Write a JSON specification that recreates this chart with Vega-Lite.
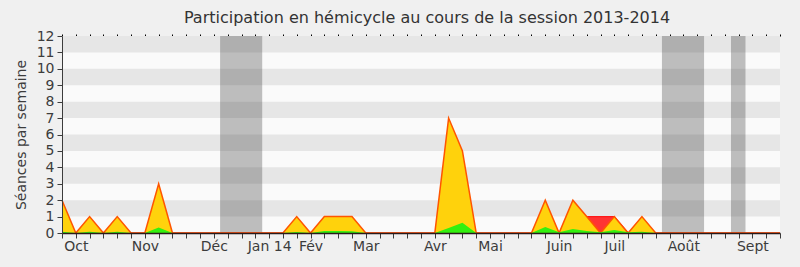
{
  "$schema": "https://vega.github.io/schema/vega-lite/v6.json",
  "width": 718,
  "height": 197,
  "autosize": "none",
  "padding": {"left": 62, "top": 36, "right": 20, "bottom": 34},
  "background": "#F0F0F0",
  "config": {
    "view": {"fill": "#FAFAFA", "stroke": null},
    "font": "DejaVu Sans",
    "axis": {"labelFont": "DejaVu Sans", "titleFont": "DejaVu Sans", "labelColor": "#3C3C3C", "titleColor": "#3C3C3C", "grid": false}
  },
  "title": {
    "text": "Participation en hémicycle au cours de la session 2013-2014",
    "font": "DejaVu Sans",
    "fontSize": 16,
    "fontWeight": "normal",
    "color": "#333333",
    "anchor": "middle",
    "offset": 3,
    "dx": 6
  },
  "datasets": {
    "weeks": [
      {"week": 0, "y": 2, "g": 0.07, "r": 0},
      {"week": 1, "y": 0, "g": 0, "r": 0},
      {"week": 2, "y": 1, "g": 0.07, "r": 0},
      {"week": 3, "y": 0, "g": 0, "r": 0},
      {"week": 4, "y": 1, "g": 0.07, "r": 0},
      {"week": 5, "y": 0, "g": 0, "r": 0},
      {"week": 6, "y": 0, "g": 0, "r": 0},
      {"week": 7, "y": 3, "g": 0.34, "r": 0},
      {"week": 8, "y": 0, "g": 0, "r": 0},
      {"week": 9, "y": 0, "g": 0, "r": 0},
      {"week": 10, "y": 0, "g": 0, "r": 0},
      {"week": 11, "y": 0, "g": 0, "r": 0},
      {"week": 12, "y": 0, "g": 0, "r": 0},
      {"week": 13, "y": 0, "g": 0, "r": 0},
      {"week": 14, "y": 0, "g": 0, "r": 0},
      {"week": 15, "y": 0, "g": 0, "r": 0},
      {"week": 16, "y": 0, "g": 0, "r": 0},
      {"week": 17, "y": 1, "g": 0.06, "r": 0},
      {"week": 18, "y": 0, "g": 0, "r": 0},
      {"week": 19, "y": 1, "g": 0.12, "r": 0},
      {"week": 20, "y": 1, "g": 0.12, "r": 0},
      {"week": 21, "y": 1, "g": 0.1, "r": 0},
      {"week": 22, "y": 0, "g": 0, "r": 0},
      {"week": 23, "y": 0, "g": 0, "r": 0},
      {"week": 24, "y": 0, "g": 0, "r": 0},
      {"week": 25, "y": 0, "g": 0, "r": 0},
      {"week": 26, "y": 0, "g": 0, "r": 0},
      {"week": 27, "y": 0, "g": 0, "r": 0},
      {"week": 28, "y": 7, "g": 0.3, "r": 0},
      {"week": 29, "y": 5, "g": 0.63, "r": 0},
      {"week": 30, "y": 0, "g": 0, "r": 0},
      {"week": 31, "y": 0, "g": 0, "r": 0},
      {"week": 32, "y": 0, "g": 0, "r": 0},
      {"week": 33, "y": 0, "g": 0, "r": 0},
      {"week": 34, "y": 0, "g": 0, "r": 0},
      {"week": 35, "y": 2, "g": 0.37, "r": 0},
      {"week": 36, "y": 0, "g": 0.05, "r": 0},
      {"week": 37, "y": 2, "g": 0.24, "r": 0},
      {"week": 38, "y": 1, "g": 0.12, "r": 1},
      {"week": 39, "y": 0, "g": 0.04, "r": 1},
      {"week": 40, "y": 1, "g": 0.18, "r": 1},
      {"week": 41, "y": 0, "g": 0.04, "r": 0},
      {"week": 42, "y": 1, "g": 0.07, "r": 0},
      {"week": 43, "y": 0, "g": 0, "r": 0},
      {"week": 44, "y": 0, "g": 0, "r": 0},
      {"week": 45, "y": 0, "g": 0, "r": 0},
      {"week": 46, "y": 0, "g": 0, "r": 0},
      {"week": 47, "y": 0, "g": 0, "r": 0},
      {"week": 48, "y": 0, "g": 0, "r": 0},
      {"week": 49, "y": 0, "g": 0, "r": 0},
      {"week": 50, "y": 0, "g": 0, "r": 0},
      {"week": 51, "y": 0, "g": 0, "r": 0},
      {"week": 52, "y": 0, "g": 0, "r": 0}
    ],
    "stripes": [
      {"a": 1, "b": 2}, {"a": 3, "b": 4}, {"a": 5, "b": 6},
      {"a": 7, "b": 8}, {"a": 9, "b": 10}, {"a": 11, "b": 12}
    ],
    "holidays": [
      {"s": 11.45, "e": 14.5},
      {"s": 43.45, "e": 46.5},
      {"s": 48.45, "e": 49.5}
    ]
  },
  "layer": [
    {
      "data": {"name": "stripes"},
      "mark": {"type": "rect", "color": "#E6E6E6"},
      "encoding": {
        "y": {
          "field": "a", "type": "quantitative",
          "scale": {"domain": [0, 12], "nice": false, "zero": true},
          "axis": {
            "orient": "left",
            "values": [0,1,2,3,4,5,6,7,8,9,10,11,12],
            "title": "Séances par semaine",
            "labelOverlap": false, "labelFontSize": 14, "labelPadding": 3,
            "titleFontSize": 14, "titleFontWeight": "normal", "titlePadding": 8,
            "tickSize": 5, "tickColor": "#3C3C3C", "domainColor": "#3C3C3C", "zindex": 1
          }
        },
        "y2": {"field": "b"}
      }
    },
    {
      "data": {"name": "holidays"},
      "mark": {"type": "rect", "color": "#323232", "opacity": 0.3},
      "encoding": {
        "x": {
          "field": "s", "type": "quantitative",
          "scale": {"domain": [0, 52], "nice": false, "zero": false, "padding": 0},
          "axis": {
            "orient": "top",
            "values": [0,1,2,3,4,5,6,7,8,9,10,11,12,13,14,15,16,17,18,19,20,21,22,23,24,25,26,27,28,29,30,31,32,33,34,35,36,37,38,39,40,41,42,43,44,45,46,47,48,49,50,51,52],
            "labels": false, "domain": false, "ticks": true, "tickSize": 2, "tickColor": "#000000", "title": null
          }
        },
        "x2": {"field": "e"}
      }
    },
    {
      "data": {"name": "weeks"},
      "mark": {"type": "area", "color": "#FF3333", "opacity": 1, "line": {"color": "#FF1A1A", "strokeWidth": 1.2}},
      "encoding": {
        "x": {"field": "week", "type": "quantitative", "axis": null},
        "y": {
          "field": "r", "type": "quantitative",
          "axis": {
            "orient": "left",
            "values": [0,1,2,3,4,5,6,7,8,9,10,11,12],
            "title": "Séances par semaine",
            "labelOverlap": false, "labelFontSize": 14, "labelPadding": 3,
            "titleFontSize": 14, "titleFontWeight": "normal", "titlePadding": 8,
            "tickSize": 5, "tickColor": "#3C3C3C", "domainColor": "#3C3C3C", "zindex": 1
          }
        }
      }
    },
    {
      "data": {"name": "weeks"},
      "mark": {"type": "area", "color": "#FFD20C", "opacity": 1, "line": {"color": "#FF5500", "strokeWidth": 1.5}},
      "encoding": {
        "x": {
          "field": "week", "type": "quantitative",
          "axis": {
            "orient": "bottom",
            "values": [0,1,2,3,4,5,6,7,8,9,10,11,12,13,14,15,16,17,18,19,20,21,22,23,24,25,26,27,28,29,30,31,32,33,34,35,36,37,38,39,40,41,42,43,44,45,46,47,48,49,50,51,52],
            "labelExpr": "datum.value==1?'Oct':datum.value==6?'Nov':datum.value==11?'Déc':datum.value==15?'Jan 14':datum.value==18?'Fév':datum.value==22?'Mar':datum.value==27?'Avr':datum.value==31?'Mai':datum.value==36?'Juin':datum.value==40?'Juil':datum.value==45?'Août':datum.value==50?'Sept':''",
            "labelOverlap": false, "labelFlush": false, "labelFontSize": 14, "labelPadding": 1,
            "tickSize": 5, "tickColor": "#3C3C3C", "domainColor": "#2A1A1A", "domainWidth": 1.5,
            "title": null, "zindex": 1
          }
        },
        "y": {
          "field": "y", "type": "quantitative",
          "axis": {
            "orient": "left",
            "values": [0,1,2,3,4,5,6,7,8,9,10,11,12],
            "title": "Séances par semaine",
            "labelOverlap": false, "labelFontSize": 14, "labelPadding": 3,
            "titleFontSize": 14, "titleFontWeight": "normal", "titlePadding": 8,
            "tickSize": 5, "tickColor": "#3C3C3C", "domainColor": "#3C3C3C", "zindex": 1
          }
        }
      }
    },
    {
      "data": {"name": "weeks"},
      "mark": {"type": "area", "color": "#33F00F", "opacity": 1},
      "encoding": {
        "x": {"field": "week", "type": "quantitative", "axis": null},
        "y": {
          "field": "g", "type": "quantitative",
          "axis": {
            "orient": "left",
            "values": [0,1,2,3,4,5,6,7,8,9,10,11,12],
            "title": "Séances par semaine",
            "labelOverlap": false, "labelFontSize": 14, "labelPadding": 3,
            "titleFontSize": 14, "titleFontWeight": "normal", "titlePadding": 8,
            "tickSize": 5, "tickColor": "#3C3C3C", "domainColor": "#3C3C3C", "zindex": 1
          }
        }
      }
    }
  ],
  "resolve": {"axis": {"x": "independent"}}
}
